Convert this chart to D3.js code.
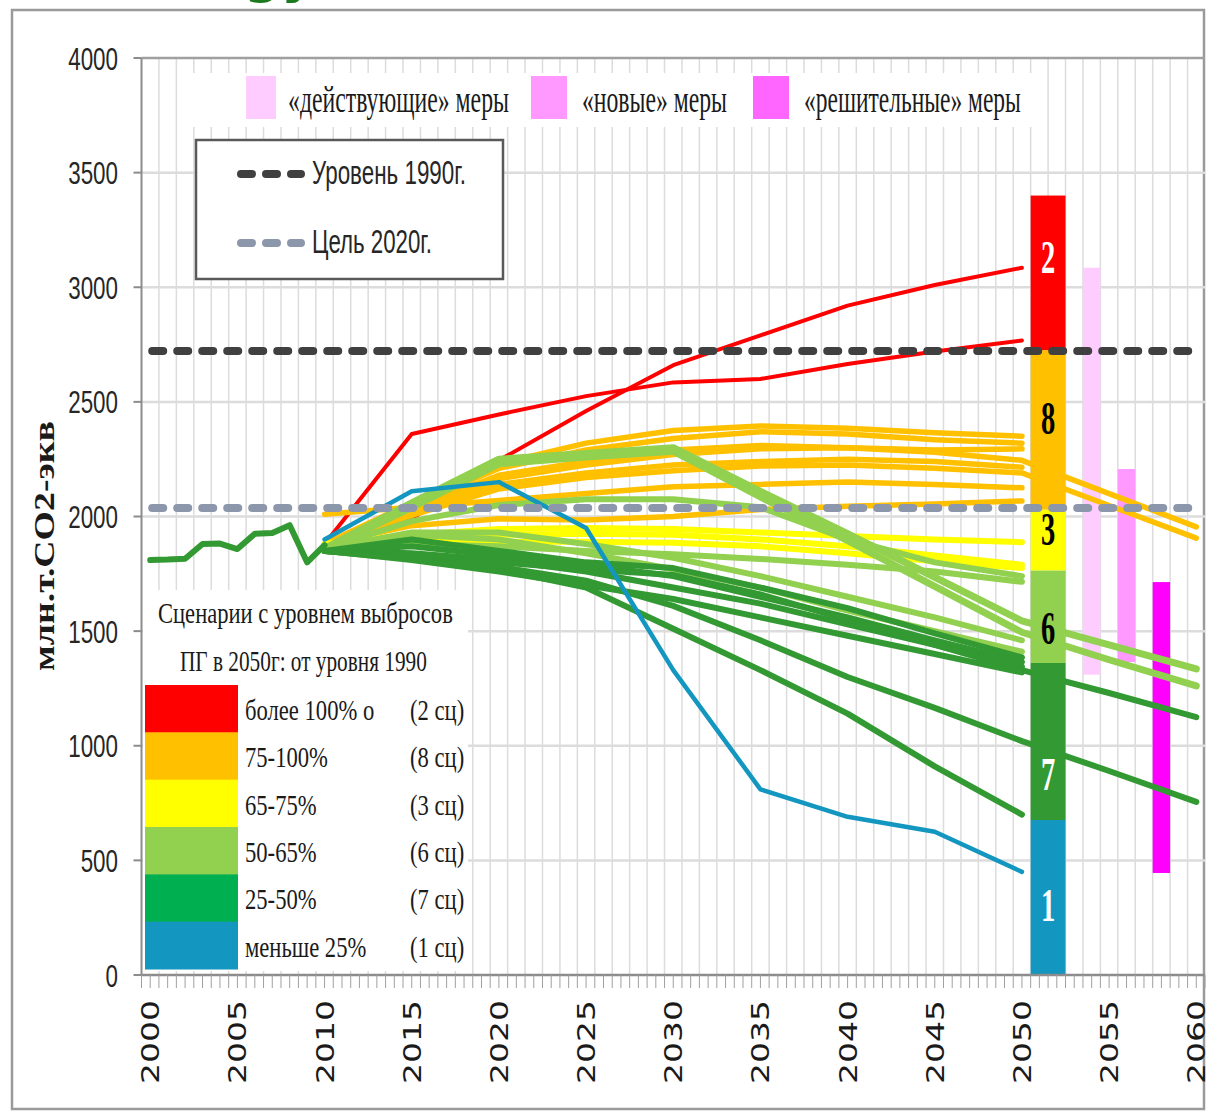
<!DOCTYPE html>
<html><head><meta charset="utf-8">
<script src="https://cdn.jsdelivr.net/npm/d3@7"></script>
<style>body{margin:0;background:#fff}svg{display:block}</style>
</head><body>
<svg id="c" width="1206" height="1112"></svg>
<script>
// ---------------- DATA ----------------
const histYears  = [2000,2001,2002,2003,2004,2005,2006,2007,2008,2009,2010];
const histValues = [1810,1812,1816,1880,1882,1858,1925,1928,1962,1800,1875];

const scenarioYears = [2010,2015,2020,2025,2030,2035,2040,2045,2050,2055,2060];

const redLines = [
  [1880,2360,2445,2525,2585,2600,2665,2720,2768],
  [1880,1990,2245,2460,2660,2790,2920,3010,3085]
];
const orangeLines = [
  [1880,2060,2230,2320,2375,2395,2385,2365,2350],
  [1880,2050,2210,2290,2340,2370,2360,2335,2320],
  [1880,2035,2180,2240,2290,2310,2300,2290,2295],
  [1880,2030,2165,2225,2270,2295,2300,2280,2245,2100,1955],
  [1880,2015,2140,2190,2225,2240,2250,2240,2215],
  [1880,2005,2120,2170,2200,2220,2225,2210,2190,2048,1906],
  [2010,2040,2070,2100,2130,2140,2150,2140,2125],
  [1880,1960,1990,1985,2000,2030,2045,2055,2068]
];
const yellowLines = [
  [1880,1920,1945,1950,1945,1930,1915,1900,1888],
  [1870,1900,1920,1925,1920,1900,1870,1830,1790],
  [1865,1880,1890,1890,1885,1870,1840,1805,1775]
];
const lightGreenLines = [
  [1860,2060,2250,2275,2300,2110,1925,1735,1545,1440,1335],
  [1855,2040,2230,2260,2285,2085,1895,1695,1495,1375,1261],
  [1860,1880,1870,1850,1835,1815,1790,1760,1715],
  [1860,1980,2050,2075,2075,2040,1900,1800,1740],
  [1860,1920,1900,1840,1770,1690,1590,1500,1410],
  [1860,1930,1930,1880,1820,1740,1650,1560,1460]
];
const darkGreenLines = [
  [1850,1900,1850,1800,1775,1690,1600,1490,1385],
  [1850,1870,1830,1790,1740,1650,1560,1460,1365],
  [1850,1840,1810,1760,1690,1620,1530,1440,1345],
  [1850,1830,1800,1770,1745,1660,1550,1440,1330,1230,1125],
  [1850,1820,1780,1720,1610,1460,1300,1165,1020,890,755],
  [1850,1815,1770,1690,1510,1330,1140,910,700],
  [1850,1810,1760,1700,1640,1560,1480,1400,1320]
];
const blueLines = [
  [1900,2110,2150,1950,1330,810,690,625,450]
];

const level1990 = 2722;
const target2020 = 2037;

// stacked bar of scenario counts (boundaries, bottom to top)
const barYears = [2051,2052];
const barBounds = [0,676,1361,1765,2030,2726,3400];
const barCounts = ["1","7","6","3","8","2"];

// measures bars
const measureLabels = ["«действующие» меры","«новые» меры","«решительные» меры"];
const measureYears  = [2054,2056,2058];
const measureLow    = [1310,1365,445];
const measureHigh   = [3085,2207,1714];

const legendLabels = ["более 100% о","75-100%","65-75%","50-65%","25-50%","меньше 25%"];
const legendCounts = ["(2 сц)","(8 сц)","(3 сц)","(6 сц)","(7 сц)","(1 сц)"];

const yTicks = [0,500,1000,1500,2000,2500,3000,3500,4000];
const xTickLabels = [2000,2005,2010,2015,2020,2025,2030,2035,2040,2045,2050,2055,2060];

// ---------------- STYLE ----------------
const C = {
  red:"#FF0000", orange:"#FFC000", yellow:"#FFFF00", lgreen:"#92D050",
  dgreen:"#339933", legGreen:"#00B050", blue:"#1396BF",
  pink1:"#FFCCFF", pink2:"#FF99FF", pink3:"#FF00FF", pink3leg:"#FF66FF",
  dark:"#404040", grayblue:"#8D97AC", grid:"#DCDCDC"
};
const legendColors = [C.red,C.orange,C.yellow,C.lgreen,C.legGreen,C.blue];
const barColors = [C.blue,C.dgreen,C.lgreen,C.yellow,C.orange,C.red];
const barTextColors = ["#fff","#fff","#000","#000","#000","#fff"];
const barTextNudge = [8,33,12,-10,-11,-15];
const measureBarColors = [C.pink1,C.pink2,C.pink3];
const measureLegColors = [C.pink1,C.pink2,C.pink3leg];

const SANS = "'Liberation Sans', Arial, sans-serif";
const SERIF = "'Liberation Serif', 'Times New Roman', serif";

const svg = d3.select("#c");
const x = d3.scaleLinear().domain([1999.5,2060.5]).range([141.5,1205]);
const y = d3.scaleLinear().domain([0,4000]).range([975,58]);

// horizontally compress a text (anchor kept) to a width w, or by a factor k
function scaleTo(sel,w,k){
  sel.each(function(){
    const el=d3.select(this);
    const L=this.getComputedTextLength();
    const s = w!=null ? w/L : k;
    const x0=+el.attr("x")||0, y0=+el.attr("y")||0;
    el.attr("x",0).attr("y",0).attr("transform",`translate(${x0},${y0}) scale(${s},1)`);
  });
}
function fit(sel,w){ sel.attr("textLength",w).attr("lengthAdjust","spacingAndGlyphs"); }

// cropped green title fragment
svg.append("text").attr("x",244).attr("y",-8).attr("font-family","'DejaVu Sans',sans-serif")
  .attr("font-weight","bold").attr("font-size",52).attr("fill","#1B7A1E").text("gy");

// frame
svg.append("rect").attr("x",12).attr("y",10).attr("width",1192).attr("height",1099)
  .attr("fill","none").attr("stroke","#9A9A9A").attr("stroke-width",2.5);

// ---------------- GRID ----------------
const g = svg.append("g");
const vLines = d3.range(2000.5,2060.5,1);
g.selectAll(".vg").data(vLines).join("line")
  .attr("x1",d=>x(d)).attr("x2",d=>x(d)).attr("y1",y(4000)).attr("y2",y(0))
  .attr("stroke",C.grid).attr("stroke-width",1.5);
g.selectAll(".hg").data(yTicks.filter(v=>v>0)).join("line")
  .attr("x1",x(1999.5)).attr("x2",x(2060.5)).attr("y1",d=>y(d)).attr("y2",d=>y(d))
  .attr("stroke",d=>d===4000?"#A0A0A0":C.grid).attr("stroke-width",2.5);

// ---------------- MEASURE BARS ----------------
svg.append("g").selectAll("rect").data(measureYears).join("rect")
  .attr("x",d=>x(d-0.5)).attr("width",d=>x(d+0.5)-x(d-0.5))
  .attr("y",(d,i)=>y(measureHigh[i])).attr("height",(d,i)=>y(measureLow[i])-y(measureHigh[i]))
  .attr("fill",(d,i)=>measureBarColors[i]);

// ---------------- LINES ----------------
const line = d3.line().x((d,i)=>x(scenarioYears[i])).y(d=>y(d));
function drawLines(arr,color,w){
  svg.append("g").selectAll("path").data(arr).join("path")
    .attr("d",line).attr("fill","none").attr("stroke",color)
    .attr("stroke-width",(d,i)=>typeof w==="function"?w(i):w)
    .attr("stroke-linejoin","round").attr("stroke-linecap","round");
}
drawLines(redLines,C.red,4);
drawLines(orangeLines,C.orange,5.5);
drawLines(yellowLines,C.yellow,6);
drawLines(lightGreenLines,C.lgreen,i=>i<2?7:6);
drawLines(darkGreenLines,C.dgreen,6);
drawLines(blueLines,C.blue,4.5);

const hline = d3.line().x((d,i)=>x(histYears[i])).y(d=>y(d));
svg.append("path").datum(histValues).attr("d",hline).attr("fill","none")
  .attr("stroke",C.dgreen).attr("stroke-width",6).attr("stroke-linejoin","round").attr("stroke-linecap","round");

// ---------------- STACKED BAR ----------------
const bx0 = x(barYears[0]-0.5), bx1 = x(barYears[1]+0.5);
const segs = barCounts.map((c,i)=>({c,i,lo:barBounds[i],hi:barBounds[i+1]}));
svg.append("g").selectAll("rect").data(segs).join("rect")
  .attr("x",bx0).attr("width",bx1-bx0)
  .attr("y",d=>y(d.hi)).attr("height",d=>y(d.lo)-y(d.hi))
  .attr("fill",d=>barColors[d.i]);

// ---------------- REFERENCE LINES ----------------
[[level1990,C.dark],[target2020,C.grayblue]].forEach(([v,col])=>{
  svg.append("line").attr("x1",x(2000)+2).attr("x2",x(2060)).attr("y1",y(v)).attr("y2",y(v))
    .attr("stroke",col).attr("stroke-width",8).attr("stroke-linecap","round")
    .attr("stroke-dasharray","11 14");
});

// bar numbers
const bt = svg.append("g").selectAll("text").data(segs).join("text")
  .attr("x",(bx0+bx1)/2).attr("y",d=>(y(d.lo)+y(d.hi))/2+barTextNudge[d.i]+15)
  .attr("text-anchor","middle").attr("font-family",SERIF).attr("font-weight","bold")
  .attr("font-size",46).attr("fill",d=>barTextColors[d.i]).text(d=>d.c);
scaleTo(bt,null,0.62);

// ---------------- AXES ----------------
svg.append("line").attr("x1",x(1999.5)).attr("x2",x(1999.5)).attr("y1",y(4000)).attr("y2",y(0))
  .attr("stroke","#8C8C8C").attr("stroke-width",2);
svg.append("g").selectAll("line").data(yTicks).join("line")
  .attr("x1",x(1999.5)-8).attr("x2",x(1999.5)).attr("y1",d=>y(d)).attr("y2",d=>y(d))
  .attr("stroke","#8C8C8C").attr("stroke-width",2);
const yl = svg.append("g").selectAll("text").data(yTicks).join("text")
  .attr("x",118).attr("y",d=>y(d)+11.5).attr("text-anchor","end")
  .attr("font-family",SANS).attr("font-size",32).attr("fill","#262626").text(d=>d);
scaleTo(yl,null,0.70);

svg.append("line").attr("x1",x(1999.5)).attr("x2",x(2060.5)).attr("y1",y(0)).attr("y2",y(0))
  .attr("stroke","#8C8C8C").attr("stroke-width",2.5);
svg.append("g").selectAll("line").data(d3.range(1999.5,2061,0.5)).join("line")
  .attr("x1",d=>x(d)).attr("x2",d=>x(d)).attr("y1",y(0)).attr("y2",y(0)+13)
  .attr("stroke","#A0A0A0").attr("stroke-width",1);
const xl = svg.append("g").selectAll("text").data(xTickLabels).join("text")
  .attr("transform",d=>`translate(${x(d)+9},1000) rotate(-90)`)
  .attr("text-anchor","end").attr("font-family","'DejaVu Sans',sans-serif")
  .attr("font-size",24).attr("fill","#1a1a1a").text(d=>d);
fit(xl,84);

// y title
const yt = svg.append("text").attr("transform","translate(54,546) rotate(-90)")
  .attr("text-anchor","middle").attr("font-family",SERIF).attr("font-weight","bold")
  .attr("font-size",30).attr("fill","#1a1a1a").text("млн.т.CO2-экв");
fit(yt,250);

// ---------------- TOP LEGEND ----------------
svg.append("rect").attr("x",193).attr("y",73).attr("width",847).attr("height",54).attr("fill","#fff");
const sqX = [246,531,753], txX = [288,582,804], txW = [221,145,217];
measureLabels.forEach((lab,i)=>{
  svg.append("rect").attr("x",sqX[i]).attr("y",76).attr("width",i===0?30:36).attr("height",43)
    .attr("fill",measureLegColors[i]);
  const t = svg.append("text").attr("x",txX[i]).attr("y",112).attr("font-family",SERIF)
    .attr("font-size",38).attr("fill","#1a1a1a").text(lab);
  scaleTo(t,txW[i]);
});

// ---------------- DASHED LEGEND ----------------
svg.append("rect").attr("x",196).attr("y",140).attr("width",307).attr("height",139)
  .attr("fill","#fff").attr("stroke","#595959").attr("stroke-width",2.5);
[[C.dark,174,"Уровень 1990г.",184,154],[C.grayblue,243,"Цель 2020г.",253,120]].forEach(([col,ly,lab,by,w])=>{
  svg.append("line").attr("x1",241).attr("x2",301).attr("y1",ly).attr("y2",ly)
    .attr("stroke",col).attr("stroke-width",8).attr("stroke-linecap","round").attr("stroke-dasharray","11 14");
  const t = svg.append("text").attr("x",312).attr("y",by).attr("font-family",SANS)
    .attr("font-size",33).attr("fill","#262626").text(lab);
  scaleTo(t,w);
});

// ---------------- SCENARIO LEGEND ----------------
svg.append("rect").attr("x",143).attr("y",590).attr("width",325).attr("height",381).attr("fill","#fff");
const lt1 = svg.append("text").attr("x",158).attr("y",623).attr("font-family",SERIF)
  .attr("font-size",29).attr("fill","#1a1a1a").text("Сценарии с уровнем выбросов");
scaleTo(lt1,295);
const lt2 = svg.append("text").attr("x",180).attr("y",671).attr("font-family",SERIF)
  .attr("font-size",29).attr("fill","#1a1a1a").text("ПГ в 2050г: от уровня 1990");
scaleTo(lt2,247);
const rowH = (969-685)/6;
const rows = svg.append("g").selectAll("g").data(legendLabels).join("g")
  .attr("transform",(d,i)=>`translate(0,${685+i*rowH})`);
rows.append("rect").attr("x",145).attr("y",0).attr("width",93).attr("height",rowH+0.5)
  .attr("fill",(d,i)=>legendColors[i]);
const rl = rows.append("text").attr("x",245).attr("y",35).attr("font-family",SERIF)
  .attr("font-size",29).attr("fill","#1a1a1a").text(d=>d);
scaleTo(rl,null,0.78);
const rc = rows.append("text").attr("x",410).attr("y",35).attr("font-family",SERIF)
  .attr("font-size",29).attr("fill","#1a1a1a").text((d,i)=>legendCounts[i]);
scaleTo(rc,null,0.78);
</script>
</body></html>
